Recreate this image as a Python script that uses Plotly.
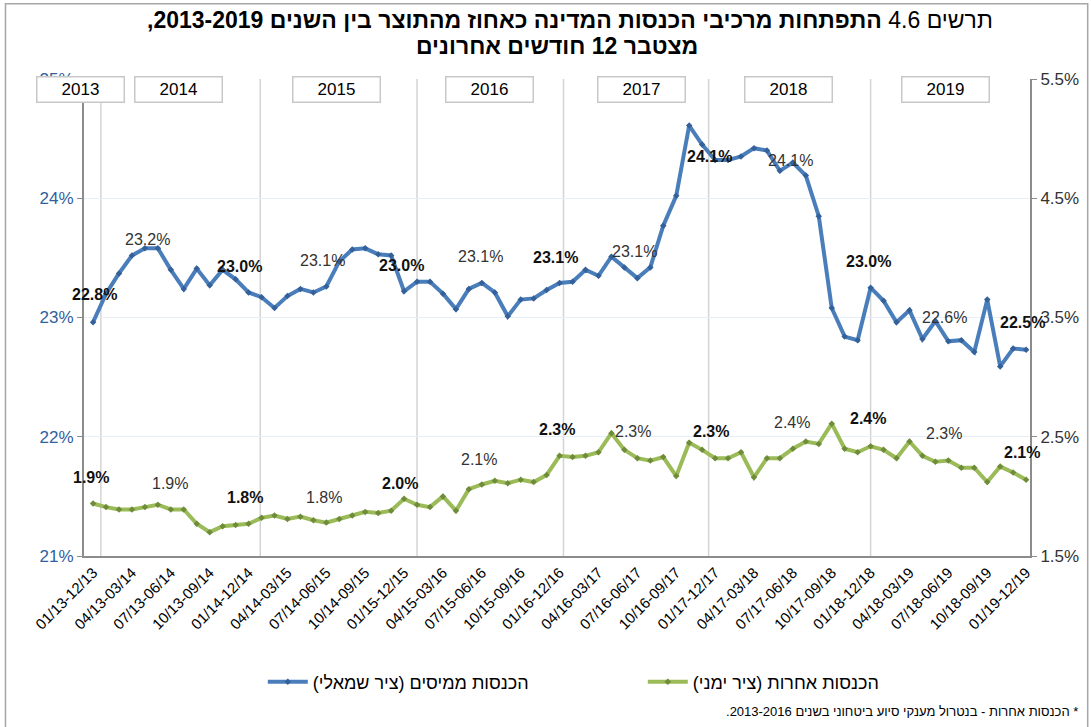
import plotly.graph_objects as go

BLUE = "#4A7EBB"
GREEN = "#9BBB59"
AXIS = "#8C8C8C"

# 12-month rolling windows, Dec-2013 .. Dec-2019 (73 points)
TAX_REVENUE = [22.96, 23.20, 23.37, 23.52, 23.58, 23.58, 23.40, 23.24, 23.41, 23.27, 23.40, 23.32,
               23.21, 23.17, 23.08, 23.18, 23.24, 23.21, 23.26, 23.47, 23.57, 23.58, 23.53, 23.52,
               23.22, 23.30, 23.30, 23.20, 23.07, 23.24, 23.29, 23.21, 23.01, 23.15, 23.16, 23.23,
               23.29, 23.30, 23.40, 23.35, 23.51, 23.42, 23.33, 23.42, 23.77, 24.02, 24.61, 24.45,
               24.32, 24.32, 24.35, 24.42, 24.40, 24.23, 24.30, 24.19, 23.85, 23.08, 22.84, 22.81,
               23.25, 23.14, 22.96, 23.06, 22.82, 22.97, 22.80, 22.81, 22.71, 23.15, 22.59, 22.74, 22.73]
OTHER_REVENUE = [1.94, 1.91, 1.89, 1.89, 1.91, 1.93, 1.89, 1.89, 1.77, 1.70, 1.75, 1.76,
                 1.77, 1.82, 1.84, 1.81, 1.83, 1.80, 1.78, 1.81, 1.84, 1.87, 1.86, 1.88,
                 1.98, 1.93, 1.91, 2.00, 1.88, 2.06, 2.10, 2.13, 2.11, 2.14, 2.12, 2.18,
                 2.34, 2.33, 2.34, 2.37, 2.53, 2.39, 2.32, 2.30, 2.33, 2.17, 2.45, 2.39,
                 2.32, 2.32, 2.37, 2.16, 2.32, 2.32, 2.40, 2.46, 2.44, 2.61, 2.40, 2.37,
                 2.42, 2.39, 2.32, 2.46, 2.34, 2.29, 2.30, 2.24, 2.24, 2.12, 2.25, 2.20, 2.14]

TICK_LABELS = ["01/13-12/13", "04/13-03/14", "07/13-06/14", "10/13-09/14", "01/14-12/14",
               "04/14-03/15", "07/14-06/15", "10/14-09/15", "01/15-12/15", "04/15-03/16",
               "07/15-06/16", "10/15-09/16", "01/16-12/16", "04/16-03/17", "07/16-06/17",
               "10/16-09/17", "01/17-12/17", "04/17-03/18", "07/17-06/18", "10/17-09/18",
               "01/18-12/18", "04/18-03/19", "07/18-06/19", "10/18-09/19", "01/19-12/19"]

YEARS = ["2013", "2014", "2015", "2016", "2017", "2018", "2019"]
YEAR_POS = [-1.0, 6.6, 18.8, 30.6, 42.3, 53.7, 65.8]
YEAR_LINES = [0.6, 12.9, 25.0, 36.3, 47.5, 60.0]

# value labels (bold = full calendar year): text, x (period index), y (axis units)
TAX_LABELS = ["22.8%", "23.2%", "23.0%", "23.1%", "23.0%", "23.1%", "23.1%",
              "23.1%", "24.1%", "24.1%", "23.0%", "22.6%", "22.5%"]
TAX_LABEL_X = [0.1, 4.2, 11.3, 17.7, 23.8, 29.9, 35.7, 41.8, 47.6, 53.8, 59.8, 65.7, 71.7]
TAX_LABEL_Y = [23.19, 23.65, 23.43, 23.48, 23.44, 23.51, 23.50, 23.55, 24.35, 24.32, 23.47, 23.00, 22.96]
OTHER_LABELS = ["1.9%", "1.9%", "1.8%", "1.8%", "2.0%", "2.1%", "2.3%",
                "2.3%", "2.3%", "2.4%", "2.4%", "2.3%", "2.1%"]
OTHER_LABEL_X = [-0.15, 5.9, 11.7, 17.8, 23.7, 29.8, 35.8, 41.7, 47.7, 53.9, 59.8, 65.7, 71.7]
OTHER_LABEL_Y = [2.16, 2.11, 1.99, 1.99, 2.11, 2.31, 2.56, 2.54, 2.54, 2.62, 2.65, 2.53, 2.37]

RLM = "\u200f"
TITLE_1 = "תרשים 4.6 <b>התפתחות מרכיבי הכנסות המדינה כאחוז מהתוצר בין השנים 2013-2019,</b>"
TITLE_2 = "<b>מצטבר 12 חודשים אחרונים</b>"
NAME_TAX = "הכנסות ממיסים (ציר שמאלי)"
NAME_OTHER = "הכנסות אחרות (ציר ימני)"
FOOTNOTE = "* הכנסות אחרות - בנטרול מענקי סיוע ביטחוני בשנים 2013-2016."

X_RANGE = [-0.7, 72.3]
x = list(range(len(TAX_REVENUE)))

fig = go.Figure()
fig.add_trace(go.Scatter(x=x, y=TAX_REVENUE, name=RLM + NAME_TAX + RLM, mode="lines+markers",
                         line=dict(color=BLUE, width=4),
                         marker=dict(symbol="diamond", size=5, color="#35619A")))
fig.add_trace(go.Scatter(x=x, y=OTHER_REVENUE, name=RLM + NAME_OTHER + RLM, mode="lines+markers",
                         yaxis="y2", line=dict(color=GREEN, width=4),
                         marker=dict(symbol="diamond", size=5, color="#6F8C3A")))

for xv in YEAR_LINES:
    fig.add_shape(type="line", xref="x", yref="paper", x0=xv, x1=xv, y0=0, y1=1,
                  line=dict(color="#D4D4D4", width=1.5), layer="below")

# outer frame
fig.add_shape(type="rect", xref="paper", yref="paper", x0=-0.083, x1=1.061, y0=-0.36, y1=1.158,
              line=dict(color="#A6A6A6", width=1.5))

ann = []
for i, (t, xv, yv) in enumerate(zip(TAX_LABELS, TAX_LABEL_X, TAX_LABEL_Y)):
    bold = i % 2 == 0
    ann.append(dict(x=xv, y=yv, xref="x", yref="y", text=f"<b>{t}</b>" if bold else t,
                    showarrow=False, font=dict(size=16, color="#111" if bold else "#333")))
for i, (t, xv, yv) in enumerate(zip(OTHER_LABELS, OTHER_LABEL_X, OTHER_LABEL_Y)):
    bold = i % 2 == 0
    ann.append(dict(x=xv, y=yv, xref="x", yref="y2", text=f"<b>{t}</b>" if bold else t,
                    showarrow=False, font=dict(size=16, color="#111" if bold else "#333")))
for yr, xv in zip(YEARS, YEAR_POS):
    ann.append(dict(x=(xv - X_RANGE[0]) / (X_RANGE[1] - X_RANGE[0]), y=0.979,
                    xref="paper", yref="paper", xanchor="center", yanchor="middle",
                    text=yr, showarrow=False,
                    bgcolor="white", bordercolor="#C8C8C8", borderwidth=1.5,
                    width=84, height=22, font=dict(size=17, color="black")))
ann.append(dict(x=0.514, y=1.124, xref="paper", yref="paper", yanchor="middle",
                text=RLM + TITLE_1 + RLM, showarrow=False, font=dict(size=23, color="black")))
ann.append(dict(x=0.5, y=1.069, xref="paper", yref="paper", yanchor="middle",
                text=RLM + TITLE_2 + RLM, showarrow=False, font=dict(size=23, color="black")))
ann.append(dict(x=1.053, y=-0.325, xref="paper", yref="paper", xanchor="right", yanchor="middle",
                text=RLM + FOOTNOTE + RLM, showarrow=False, font=dict(size=13, color="black")))

fig.update_layout(
    width=1091, height=727,
    margin=dict(l=84, r=61, t=79, b=171),
    paper_bgcolor="white", plot_bgcolor="white",
    font=dict(family="Liberation Sans, DejaVu Sans, sans-serif"),
    showlegend=True,
    legend=dict(orientation="h", x=0.189, xanchor="left", y=-0.264, yanchor="middle",
                font=dict(size=18, color="black"), itemwidth=40, entrywidth=325),
    annotations=ann,
    xaxis=dict(range=X_RANGE, tickvals=x[::3], ticktext=TICK_LABELS, tickangle=-45,
               tickfont=dict(size=15, color="black"), showgrid=False, zeroline=False,
               showline=True, linecolor=AXIS, linewidth=2, ticks=""),
    yaxis=dict(range=[21, 25], tickvals=[21, 22, 23, 24, 25], ticktext=["21%", "22%", "23%", "24%", "25%"],
               tickfont=dict(size=17, color="#2F5F9E"), showgrid=True, gridcolor="#E6EEF7",
               zeroline=False, showline=True, linecolor=AXIS, linewidth=2, ticks="outside",
               ticklen=5, tickcolor=AXIS),
    yaxis2=dict(range=[1.5, 5.5], tickvals=[1.5, 2.5, 3.5, 4.5, 5.5],
                ticktext=["1.5%", "2.5%", "3.5%", "4.5%", "5.5%"], overlaying="y", side="right",
                tickfont=dict(size=17, color="#333"), showgrid=False, zeroline=False,
                showline=True, linecolor=AXIS, linewidth=2, ticks="outside", ticklen=5, tickcolor=AXIS),
)

fig.write_html("out.html", config={"displayModeBar": False},
               post_script="document.body.style.margin='0';")
